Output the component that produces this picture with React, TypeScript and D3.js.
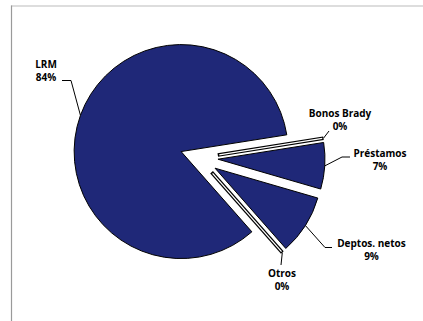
import React from "react";
import * as d3 from "d3";

const categories = ["Bonos Brady", "Préstamos", "Deptos. netos", "Otros", "LRM"];
const values = [0, 7, 9, 0, 84];
const pctLabels = ["0%", "7%", "9%", "0%", "84%"];

// label layout: text centre x, first baseline y, leader elbow and end points
const labelLayout = [
  { tx: 340, ty: 116.5, pts: [[329, 131]] },
  { tx: 380, ty: 157.3, pts: [[342, 157], [350, 157]] },
  { tx: 371.5, ty: 247.3, pts: [[325, 247.5], [332, 247.5]] },
  { tx: 282, ty: 277.3, pts: [[281, 265]] },
  { tx: 46, ty: 67.5, pts: [[71, 80.5], [62, 80.5]] },
];

const W = 423;
const H = 321;
const cx = 199;
const cy = 158;
const R = 107;
const EXPLODE = 19;
const FILL = "#1f2878";

export default function App() {
  const pie = d3
    .pie<number>()
    .sort(null)
    .value((d) => d)
    .startAngle((81 * Math.PI) / 180)
    .endAngle((81 * Math.PI) / 180 + 2 * Math.PI);
  const arcs = pie(values);
  const arcGen = d3.arc<d3.PieArcDatum<number>>().innerRadius(0).outerRadius(R);

  const dir = (a: number) => [Math.sin(a), -Math.cos(a)];

  return (
    <svg
      width={W}
      height={H}
      style={{ position: "absolute", left: 0, top: 0, background: "#fff" }}
      fontFamily="'Open Sans', 'DejaVu Sans', sans-serif"
    >
      <line x1={11} y1={6} x2={W} y2={6} stroke="#d2d2d2" strokeWidth={1.5} />
      <line x1={11.5} y1={5.5} x2={11.5} y2={H} stroke="#9a9a9a" strokeWidth={1.2} />
      {arcs.map((a, i) => {
        const mid = (a.startAngle + a.endAngle) / 2;
        const [dx, dy] = dir(mid);
        const ox = cx + dx * EXPLODE;
        const oy = cy + dy * EXPLODE;
        const path = arcGen(a) || "";
        const zero = a.endAngle - a.startAngle < 1e-6;
        return (
          <g key={categories[i]} transform={`translate(${ox},${oy})`}>
            {zero ? (
              <>
                <line x1={0} y1={0} x2={dx * R} y2={dy * R} stroke="#000" strokeWidth={3.6} />
                <line x1={dx * 1.5} y1={dy * 1.5} x2={dx * (R - 1.2)} y2={dy * (R - 1.2)} stroke="#fff" strokeWidth={1.3} />
              </>
            ) : (
              <path d={path} fill={FILL} stroke="#000" strokeWidth={1} strokeLinejoin="miter" />
            )}
          </g>
        );
      })}
      {arcs.map((a, i) => {
        const mid = (a.startAngle + a.endAngle) / 2;
        const [dx, dy] = dir(mid);
        const px = cx + dx * (EXPLODE + R);
        const py = cy + dy * (EXPLODE + R);
        const L = labelLayout[i];
        const pts = [[px, py], ...L.pts];
        return (
          <g key={"lab" + i}>
            <polyline
              points={pts.map((p) => p.join(",")).join(" ")}
              fill="none"
              stroke="#000"
              strokeWidth={1}
            />
            <text
              x={L.tx}
              y={L.ty}
              textAnchor="middle"
              fontSize={10}
              fontWeight={700}
              fill="#000"
            >
              {categories[i]}
            </text>
            <text
              x={L.tx}
              y={L.ty + 13}
              textAnchor="middle"
              fontSize={10}
              fontWeight={700}
              fill="#000"
            >
              {pctLabels[i]}
            </text>
          </g>
        );
      })}
    </svg>
  );
}
